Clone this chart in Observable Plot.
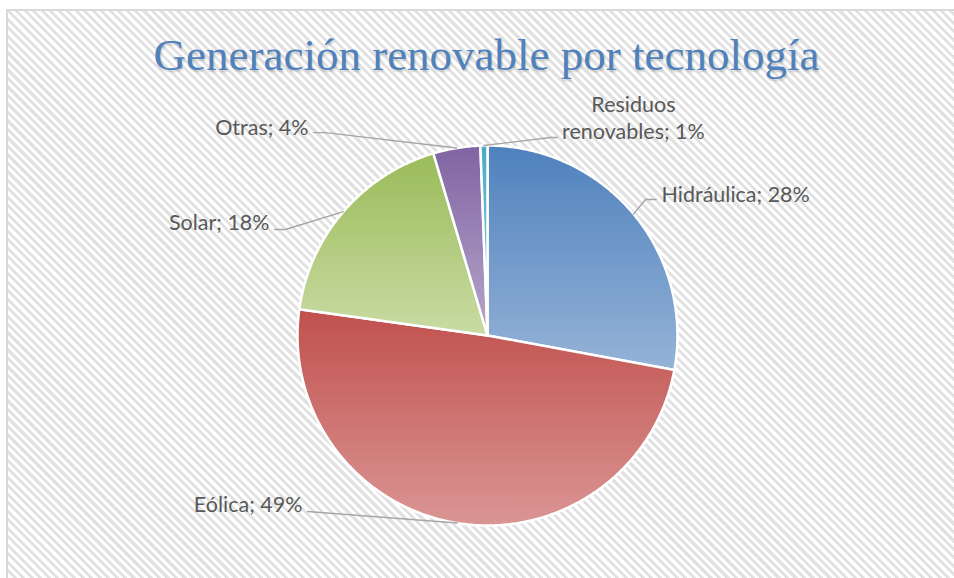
<!DOCTYPE html>
<html><head><meta charset="utf-8">
<script src="https://cdn.jsdelivr.net/npm/d3@7"></script>
<script src="https://cdn.jsdelivr.net/npm/@observablehq/plot@0.6"></script>
<style>
body{margin:0;background:#fff;}
#wrap{position:relative;width:954px;height:578px;overflow:hidden;}
#bg{position:absolute;left:6px;top:9px;width:1000px;height:600px;border-left:2px solid #d9d9d9;border-top:2px solid #d9d9d9;
  background:repeating-linear-gradient(45deg,#ffffff 0px,#ffffff 3px,#e2e2e2 3px,#e2e2e2 6px);}
#title{position:relative;height:90px;box-sizing:border-box;padding-top:33px;padding-left:19px;text-align:center;
  font-family:"Liberation Serif",serif;font-size:45px;line-height:45px;color:#4F81BD;text-shadow:1px 2px 2px rgba(0,0,0,0.18);white-space:nowrap;}
#chart{position:relative;}
</style></head><body>
<div id="wrap"><div id="bg"></div><div id="title">Generación renovable por tecnología</div><div id="chart"></div></div>
<script>
// ---- data ----
const categories = ["Hidráulica", "Eólica", "Solar", "Otras", "Residuos renovables"];
const labelNames = ["Hidráulica", "Eólica", "Solar", "Otras", "Residuos\nrenovables"];
const shares = [27.9, 49.3, 18.2, 4.0, 0.6];
// slice gradient colours (top, bottom)
const colorTop = ["#4F81BD", "#C0504D", "#9BBB59", "#8064A2", "#4BACC6"];
const colorBottom = ["#95B3D7", "#DA9694", "#C9DBA4", "#B7A6CB", "#93CDDD"];

// ---- layout (pie unit coordinates, y up) ----
const cx = 487, cy = 245, R = 190;
const labelAt = [[0.916, 0.7105], [-0.974, -0.926], [-1.147, 0.563], [-0.942, 1.063], [0.768, 1.037]];
const labelAnchor = ["start", "end", "end", "end", "middle"];
const leaderBend = [[0.832, 0.716], [-0.947, -0.926], [-1.063, 0.558], [-0.853, 1.068], [0.332, 1.042]];
const leaderEnd = [[0.889, 0.716], [-0.947, -0.926], [-1.121, 0.558], [-0.916, 1.068], [0.368, 1.042]];

const arcs = d3.pie().sort(null).value(d => d)(shares);
const slices = arcs.map((a, i) => {
  const n = Math.max(2, Math.ceil((a.endAngle - a.startAngle) / (Math.PI / 360)));
  const pts = [{i, x: 0, y: 0}];
  for (let k = 0; k <= n; k++) {
    const t = a.startAngle + (a.endAngle - a.startAngle) * k / n;
    pts.push({i, x: Math.sin(t), y: Math.cos(t)});
  }
  pts.push({i, x: 0, y: 0});
  return pts;
});
const leaders = arcs.flatMap((a, i) => {
  const m = (a.startAngle + a.endAngle) / 2;
  return [
    {i, x: Math.sin(m), y: Math.cos(m)},
    {i, x: leaderBend[i][0], y: leaderBend[i][1]},
    {i, x: leaderEnd[i][0], y: leaderEnd[i][1]}
  ];
});
const labels = categories.map((c, i) => ({
  x: labelAt[i][0], y: labelAt[i][1],
  text: `${labelNames[i]}; ${Math.round(shares[i])}%`
}));

const defs = () => {
  const d = d3.create("svg:defs");
  colorTop.forEach((c, i) => {
    const g = d.append("linearGradient").attr("id", `g${i}`).attr("x1", 0).attr("y1", 0).attr("x2", 0).attr("y2", 1);
    g.append("stop").attr("offset", "0%").attr("stop-color", c);
    g.append("stop").attr("offset", "100%").attr("stop-color", colorBottom[i]);
  });
  return d.node();
};

const chart = Plot.plot({
  width: 954, height: 488, margin: 0, axis: null,
  style: "background: transparent; overflow: visible;",
  x: {domain: [-1, 1], range: [cx - R, cx + R]},
  y: {domain: [-1, 1], range: [cy + R, cy - R]},
  marks: [
    defs,
    ...slices.map((s, i) => Plot.line(s, {x: "x", y: "y", fill: `url(#g${i})`, stroke: "white", strokeWidth: 2.5, strokeLinejoin: "round", curve: "linear"})),
    Plot.line(leaders, {x: "x", y: "y", z: "i", stroke: "#A6A6A6", strokeWidth: 1.4}),
    ...labels.map((l, i) => Plot.text([l], {x: "x", y: "y", text: "text", textAnchor: labelAnchor[i], lineAnchor: "bottom", lineHeight: 1.3, fontSize: 21.5, fontFamily: "Lato", fill: "#595959", dy: 1}))
  ]
});
document.getElementById("chart").appendChild(chart);
</script>
</body></html>
